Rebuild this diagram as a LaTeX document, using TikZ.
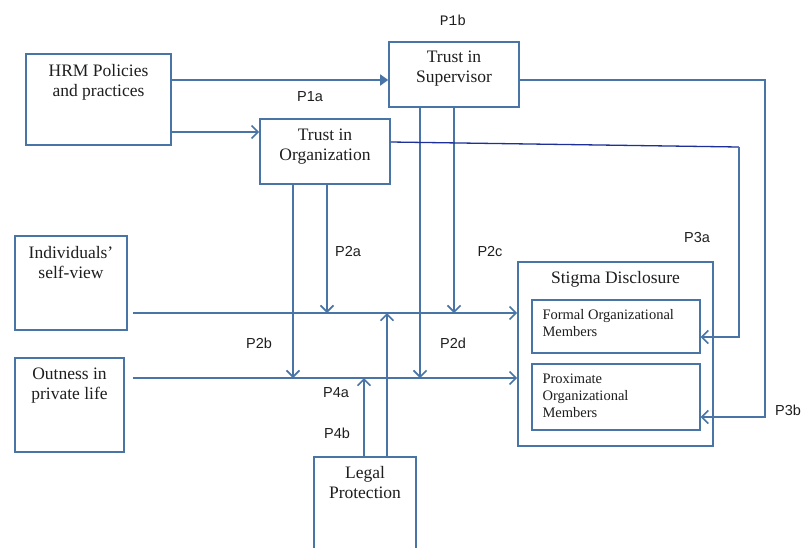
\documentclass[tikz,border=0pt]{standalone}
\usepackage{fontspec}
\setmainfont{Liberation Serif}
\setsansfont{Liberation Sans}
\setmonofont{Liberation Mono}
\usetikzlibrary{arrows.meta}
\definecolor{linkblue}{RGB}{72,116,166}
\definecolor{deepblue}{RGB}{28,48,152}
\definecolor{inkgrey}{RGB}{30,30,30}
\begin{document}
\begin{tikzpicture}[x=1pt,y=-1pt,
    box/.style={draw=linkblue,line width=1.6pt,fill=white,inner sep=0pt},
    boxtext/.style={anchor=north,inner sep=0pt,align=center,text=inkgrey,font=\fontsize{17.5}{20}\selectfont},
    subtext/.style={anchor=north west,inner sep=0pt,align=left,text=inkgrey,font=\fontsize{14.5}{17}\selectfont},
    plabel/.style={text=inkgrey,font=\sffamily\fontsize{14.5}{16}\selectfont},
    link/.style={draw=linkblue,line width=1.6pt},
    arr/.style={link,-{Straight Barb[length=6.5pt,width=13pt]}},
    solidarr/.style={link,-{Triangle[length=8pt,width=11pt]}}]
  \clip (0,0) rectangle (803,547);
  \fill[white] (0,0) rectangle (803,547);
  % boxes
  \node[box,minimum width=145pt,minimum height=91pt] (hrm) at (98.5,99.5) {};
  \node[box,minimum width=130pt,minimum height=65pt] (sup) at (454,74.5) {};
  \node[box,minimum width=130pt,minimum height=65pt] (org) at (325,151.5) {};
  \node[box,minimum width=112pt,minimum height=94pt] (self) at (71,283) {};
  \node[box,minimum width=109pt,minimum height=94pt] (out) at (69.5,405) {};
  \node[box,minimum width=102pt,minimum height=113pt] (legal) at (365,513.5) {};
  \node[box,minimum width=195pt,minimum height=184pt] (stig) at (615.5,354) {};
  \node[box,line width=1.3pt,minimum width=168pt,minimum height=53pt] (formal) at (616,326.5) {};
  \node[box,line width=1.3pt,minimum width=168pt,minimum height=66pt] (prox) at (616,397) {};
  % box texts
  \node[boxtext] (hrmtxt) at ([yshift=-11pt]hrm.north) {HRM Policies\\and practices};
  \node[boxtext] (suptxt) at ([yshift=-9.5pt]sup.north) {Trust in\\Supervisor};
  \node[boxtext] (orgtxt) at ([yshift=-11pt]org.north) {Trust in\\Organization};
  \node[boxtext] (selftxt) at ([yshift=-11pt]self.north) {Individuals'\\self-view};
  \node[boxtext] (outtxt) at ([yshift=-11pt]out.north) {Outness in\\private life};
  \node[boxtext] (legaltxt) at ([yshift=-9.5pt]legal.north) {Legal\\Protection};
  \node[boxtext] (stigtxt) at ([yshift=-9.5pt]stig.north) {Stigma Disclosure};
  \node[subtext] (formaltxt) at ([xshift=11pt,yshift=-10pt]formal.north west) {Formal Organizational\\Members};
  \node[subtext] (proxtxt) at ([xshift=11pt,yshift=-10pt]prox.north west) {Proximate\\Organizational\\Members};
  % points on the lines
  \coordinate (sv) at ([yshift=-30pt]self.east);
  \coordinate (op) at ([yshift=27pt]out.east);
  \coordinate (hs) at ([yshift=-5.5pt]sup.west);
  \coordinate (ho) at ([yshift=19.5pt]org.west);
  \coordinate (o2a) at ([xshift=2pt]org.south);
  \coordinate (o2b) at ([xshift=-32pt]org.south);
  \coordinate (s2c) at (sup.south);
  \coordinate (s2d) at ([xshift=-34pt]sup.south);
  \coordinate (l4a) at ([xshift=-1pt]legal.north);
  \coordinate (l4b) at ([xshift=22pt]legal.north);
  \coordinate (o3) at ([yshift=9.5pt]org.east);
  \coordinate (o3c) at ([xshift=348pt,yshift=-5pt]o3);
  \coordinate (s3) at ([yshift=-5.5pt]sup.east);
  % connectors
  \draw[solidarr] (hs -| hrm.east) -- (hs);
  \draw[arr] (ho -| hrm.east) -- (ho);
  \draw[arr] ([xshift=5pt]sv) -- (sv -| stig.west);
  \draw[arr] ([xshift=8pt]op) -- (op -| stig.west);
  \draw[arr] (o2a) -- (o2a |- sv);
  \draw[arr] (o2b) -- (o2b |- op);
  \draw[arr] (s2c) -- (s2c |- sv);
  \draw[arr] (s2d) -- (s2d |- op);
  \draw[arr] (l4a) -- (l4a |- op);
  \draw[arr] (l4b) -- (l4b |- sv);
  \draw[link,draw=deepblue,line width=1.3pt] (o3) -- (o3c);
  \draw[arr] (o3c) |- ([yshift=-10.5pt]formal.east);
  \draw[arr] (s3) -- ++(245,0) |- ([yshift=-20pt]prox.east);
  % labels
  \node[plabel,font=\ttfamily\fontsize{14.5}{16}\selectfont] (p1b) at (453,20) {P1b};
  \node[plabel] (p1a) at (310,97) {P1a};
  \node[plabel] (p2a) at (348,252) {P2a};
  \node[plabel] (p2c) at (490,252) {P2c};
  \node[plabel] (p2b) at (259,343) {P2b};
  \node[plabel] (p2d) at (453,343) {P2d};
  \node[plabel] (p4a) at (336,393) {P4a};
  \node[plabel] (p4b) at (337,433) {P4b};
  \node[plabel] (p3a) at (697,238) {P3a};
  \node[plabel] (p3b) at (788,410) {P3b};
\end{tikzpicture}
\end{document}
